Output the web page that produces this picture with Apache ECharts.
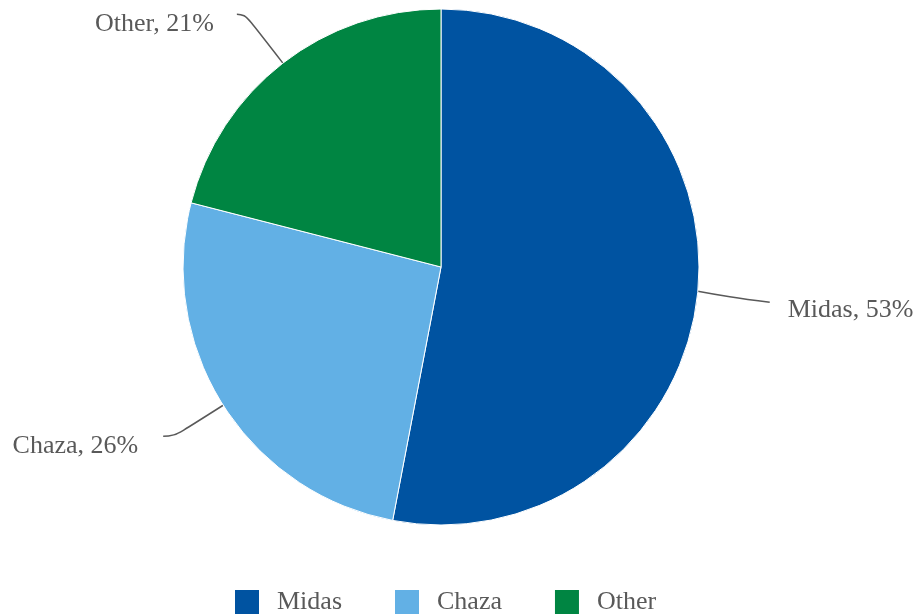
<!DOCTYPE html>
<html><head><meta charset="utf-8">
<script src="https://cdn.jsdelivr.net/npm/echarts@6/dist/echarts.min.js"></script>
<style>html,body{margin:0;padding:0;background:#fff}#c{width:917px;height:614px}</style>
</head><body><div id="c"></div>
<script>
const categories = ['Midas', 'Chaza', 'Other'];
const values = [53, 26, 21];
const colors = ['#0053A1', '#62B0E5', '#008542'];
const lineLengths = [[32, 40], [58, 11], [62, 8]];
const labelShift = [[-2, 16], [-5, 10], [-3, 10]];
const lineShift = [[3, 8], [0, 0], [0, 0]];

const chart = echarts.init(document.getElementById('c'));
chart.setOption({
  animation: false,
  textStyle: { fontFamily: 'Liberation Serif' },
  legend: {
    data: categories,
    bottom: -7,
    left: 228,
    itemWidth: 26,
    itemHeight: 26,
    itemGap: 51,
    icon: 'rect',
    textStyle: { fontSize: 26, color: '#595959', fontFamily: 'Liberation Serif', padding: [0, 0, 0, 12] }
  },
  series: [{
    type: 'pie',
    center: [441, 267],
    radius: 258,
    startAngle: 90,
    clockwise: true,
    itemStyle: { borderColor: '#fff', borderWidth: 1 },
    label: {
      formatter: '{b}, {c}%',
      fontSize: 26,
      color: '#595959',
      fontFamily: 'Liberation Serif',
      distanceToLabelLine: 20,
      overflow: 'none',
      bleedMargin: 0
    },
    labelLine: { smooth: 0.5, lineStyle: { color: '#595959', width: 1.5 } },
    labelLayout: function (p) {
      const i = p.dataIndex;
      const out = { dx: labelShift[i][0], dy: labelShift[i][1] };
      if (p.labelLinePoints) {
        const pts = p.labelLinePoints.map(q => [q[0], q[1]]);
        pts[1][1] += lineShift[i][0];
        pts[2][1] += lineShift[i][1];
        out.labelLinePoints = pts;
      }
      return out;
    },
    data: categories.map((n, i) => ({
      name: n, value: values[i],
      itemStyle: { color: colors[i] },
      labelLine: { length: lineLengths[i][0], length2: lineLengths[i][1] }
    }))
  }]
});
</script></body></html>
